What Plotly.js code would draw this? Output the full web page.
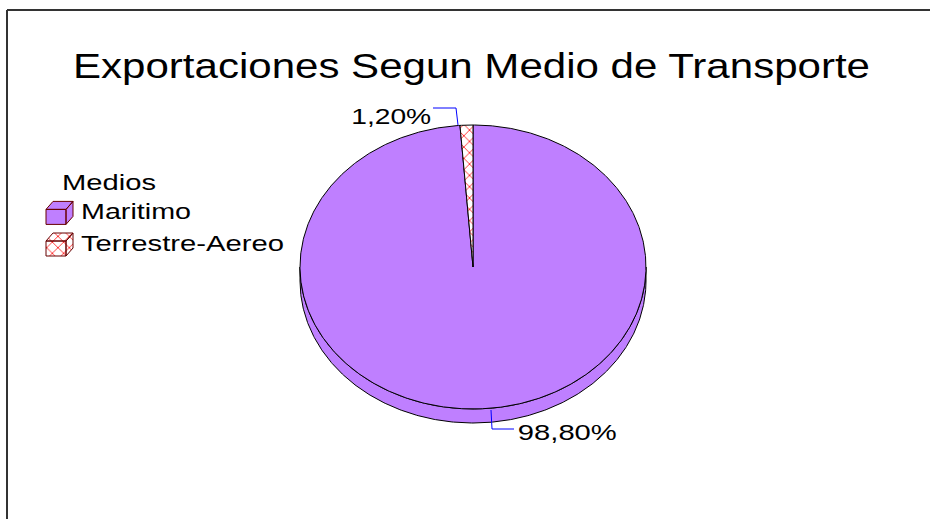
<!DOCTYPE html>
<html>
<head>
<meta charset="utf-8">
<script src="https://cdn.plot.ly/plotly-3.0.1.min.js"></script>
<style>
html,body{margin:0;padding:0;background:#fff;}
#chart{width:930px;height:519px;}
</style>
</head>
<body>
<div id="chart"></div>
<script>
// ---- data ----
const chartTitle = 'Exportaciones Segun Medio de Transporte';
const legendTitle = 'Medios';
const categories = ['Maritimo', 'Terrestre-Aereo'];
const values = [98.8, 1.2];

// ---- styles / geometry (layout only) ----
const colors = ['#bf7fff', '#ffffff'];
const patterns = [null, {shape: 'x', fgcolor: '#ff0000', bgcolor: '#ffffff', size: 8, solidity: 0.18}];
const cx = 473, cy = 267, rx = 173, ry = 142, depth = 14;
const FONT = 'Liberation Sans, Arial, sans-serif';

function pt(deg) {
  const r = deg * Math.PI / 180;
  return [cx + rx * Math.sin(r), cy - ry * Math.cos(r)];
}
function arc(a0, a1) {
  const n = Math.max(2, Math.ceil(Math.abs(a1 - a0) / 0.5));
  const out = [];
  for (let i = 0; i <= n; i++) out.push(pt(a0 + (a1 - a0) * i / n));
  return out;
}

const total = values.reduce((a, b) => a + b, 0);
const sideTraces = [], topTraces = [];
let acc = 0;
values.forEach((v, i) => {
  const a0 = acc / total * 360, a1 = (acc + v) / total * 360;
  acc += v;
  const s0 = Math.max(a0, 90), s1 = Math.min(a1, 270);
  if (s1 > s0) {
    const top = arc(s0, s1);
    const bot = top.slice().reverse().map(p => [p[0], p[1] + depth]);
    const poly = top.concat(bot, [top[0]]);
    sideTraces.push({
      type: 'scatter', mode: 'lines', x: poly.map(p => p[0]), y: poly.map(p => p[1]),
      fill: 'toself', fillcolor: colors[i], line: {color: '#000', width: 1},
      showlegend: false, hoverinfo: 'skip'
    });
  }
  const poly = [[cx, cy]].concat(arc(a0, a1), [[cx, cy]]);
  const tr = {
    type: 'scatter', mode: 'lines', name: categories[i],
    x: poly.map(p => p[0]), y: poly.map(p => p[1]),
    fill: 'toself', fillcolor: colors[i], line: {color: '#000', width: 1},
    hoverinfo: 'skip'
  };
  if (patterns[i]) tr.fillpattern = patterns[i];
  topTraces.push(tr);
});

function fmt(v) { return v.toFixed(2).replace('.', ',') + '%'; }

const layout = {
  width: 930, height: 519,
  margin: {l: 0, r: 0, t: 0, b: 0},
  paper_bgcolor: '#fff', plot_bgcolor: '#fff',
  showlegend: true,
  title: {
    text: chartTitle, font: {family: FONT, size: 35, color: '#000'},
    x: 471.5 / 930, xanchor: 'center', y: 1 - 66 / 519, yanchor: 'middle', yref: 'container'
  },
  xaxis: {range: [0, 930], visible: false, fixedrange: true},
  yaxis: {range: [519, 0], visible: false, fixedrange: true},
  legend: {
    title: {text: legendTitle, font: {family: FONT, size: 22, color: '#000'}},
    font: {family: FONT, size: 22, color: '#000'},
    x: 41 / 930, xanchor: 'left', y: 1 - 161 / 519, yanchor: 'top',
    bgcolor: 'rgba(0,0,0,0)', borderwidth: 0, itemwidth: 30
  },
  shapes: [
    {type: 'line', xref: 'x', yref: 'y', x0: 7, x1: 930, y0: 10, y1: 10, line: {color: '#333', width: 2}},
    {type: 'line', xref: 'x', yref: 'y', x0: 7, x1: 7, y0: 10, y1: 519, line: {color: '#333', width: 2}},
    {type: 'path', xref: 'x', yref: 'y', path: 'M458,125 L456,108 L433,108', line: {color: '#0000ff', width: 1}},
    {type: 'path', xref: 'x', yref: 'y', path: 'M491,410 L492,429 L514,429', line: {color: '#0000ff', width: 1}}
  ],
  annotations: [
    {xref: 'x', yref: 'y', x: 391, y: 116, xanchor: 'center', yanchor: 'middle', showarrow: false,
     text: fmt(values[1]), font: {family: FONT, size: 22, color: '#000'}},
    {xref: 'x', yref: 'y', x: 567.5, y: 432, xanchor: 'center', yanchor: 'middle', showarrow: false,
     text: fmt(values[0]), font: {family: FONT, size: 22, color: '#000'}}
  ]
};

// target rendered widths of the (horizontally stretched) texts in the reference
const legendTextWidths = [110, 203];
const labelWidths = [99, 80];

function stretch(el, w) {
  if (!el) return;
  el.setAttribute('textLength', w);
  el.setAttribute('lengthAdjust', 'spacingAndGlyphs');
}

Plotly.newPlot('chart', sideTraces.concat(topTraces), layout, {displayModeBar: false, staticPlot: true}).then(gd => {
  const cube = 'M5,-1h20v15h-20z M5,-1l7,-8h20l-7,8z M25,-1l7,-8v15l-7,8z';
  gd.querySelectorAll('.legend [clip-path]').forEach(e => e.removeAttribute('clip-path'));
  gd.querySelectorAll('.legend .traces').forEach((g, i) => {
    g.querySelectorAll('.legendlines path').forEach(p => { p.style.display = 'none'; });
    g.querySelectorAll('.legendfill path').forEach(p => {
      p.setAttribute('d', cube);
      p.style.stroke = '#660000';
      p.style.strokeWidth = '1px';
      p.style.strokeLinejoin = 'round';
    });
    stretch(g.querySelector('text.legendtext'), legendTextWidths[i]);
  });
  const lt = gd.querySelector('.legendtitletext');
  if (lt) {
    stretch(lt, 94);
    const tf = lt.getAttribute('transform') || '';
    lt.setAttribute('transform', tf + ' translate(19,0)');
  }
  stretch(gd.querySelector('.gtitle'), 797);
  gd.querySelectorAll('.annotation-text').forEach((t, i) => {
    stretch(t, i === 0 ? labelWidths[1] : labelWidths[0]);
  });
});
</script>
</body>
</html>
